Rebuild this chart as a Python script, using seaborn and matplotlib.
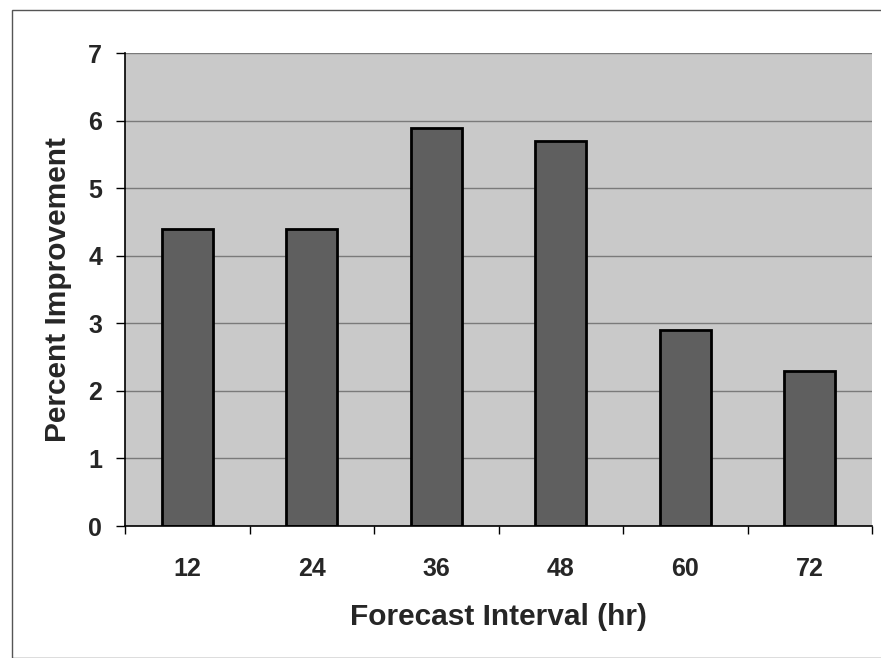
import numpy as np
import pandas as pd
import seaborn as sns
import matplotlib.pyplot as plt
from matplotlib.patches import Rectangle

# Percent improvement by forecast interval

intervals = ['12', '24', '36', '48', '60', '72']
improvement = [4.4, 4.4, 5.9, 5.7, 2.9, 2.3]

df = pd.DataFrame({'interval': intervals, 'improvement': improvement})

sns.set_style('white')
plt.rcParams['font.family'] = ['Liberation Sans', 'DejaVu Sans']

fig = plt.figure(figsize=(8.81, 6.58), dpi=100)
ax = fig.add_axes([0.142, 0.2006, 0.848, 0.7184])
ax.set_facecolor('#c9c9c9')

sns.barplot(data=df, x='interval', y='improvement', color='#5f5f5f',
            width=0.41, edgecolor='black', linewidth=2, saturation=1, ax=ax)

ax.set_ylim(0, 7)
ax.set_xlim(-0.5, len(intervals) - 0.5)
ax.set_yticks(range(0, 8))
ax.yaxis.grid(True, color='#7a7a7a', linewidth=1)
ax.set_axisbelow(True)

# category boundary ticks, Excel style
ax.set_xticks(np.arange(-0.5, len(intervals), 1), minor=True)
ax.tick_params(axis='x', which='major', bottom=False, pad=19, labelsize=18)
ax.tick_params(axis='x', which='minor', bottom=True, length=6, width=1,
               color='black', direction='out')
ax.tick_params(axis='y', left=True, length=6.5, width=1, color='black',
               direction='out', labelsize=18, pad=10)
for lab in ax.get_xticklabels() + ax.get_yticklabels():
    lab.set_fontweight('bold')

for side in ['top', 'right']:
    ax.spines[side].set_visible(False)
for side in ['left', 'bottom']:
    ax.spines[side].set_color('black')
    ax.spines[side].set_linewidth(1.2)

ax.set_xlabel('Forecast Interval (hr)', fontsize=21.5, fontweight='bold', labelpad=16)
ax.set_ylabel('Percent Improvement', fontsize=21.5, fontweight='bold', labelpad=12)

# outer chart border
fig.patches.append(Rectangle((12 / 881, 0.0), 1.2, 1 - 10 / 658, transform=fig.transFigure,
                             fill=False, edgecolor='#555555', linewidth=1))

fig.savefig('out.png', dpi=100)
